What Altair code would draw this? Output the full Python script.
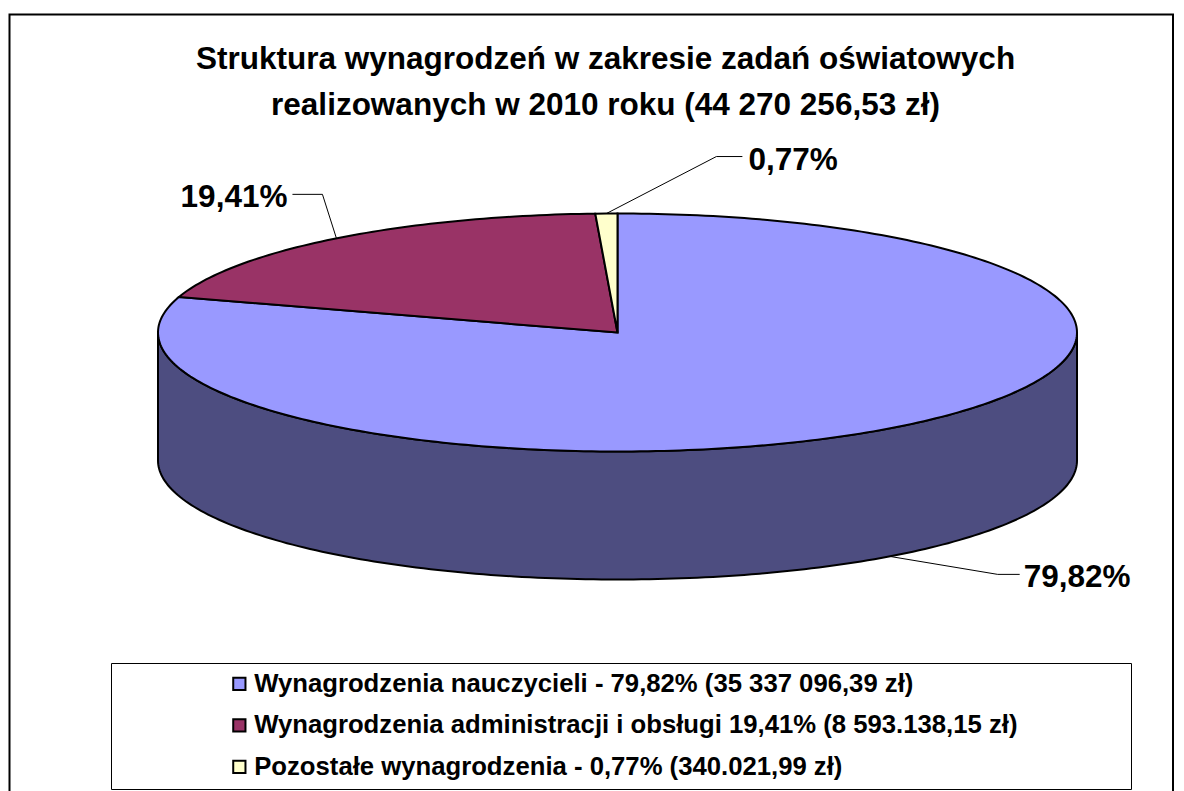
import math
import altair as alt

SERIES = [
    "Wynagrodzenia nauczycieli - 79,82% (35 337 096,39 zł)",
    "Wynagrodzenia administracji i obsługi 19,41% (8 593.138,15 zł)",
    "Pozostałe wynagrodzenia - 0,77% (340.021,99 zł)",
]
SHARES = [79.82, 19.41, 0.77]
SHARE_LABELS = ["79,82%", "19,41%", "0,77%"]
COLORS = ["#9999ff", "#993366", "#ffffcc"]
WALL_COLORS = ["#4d4d80", "#4d1a33", "#808066"]
TITLE = [
    "Struktura wynagrodzeń w zakresie zadań oświatowych",
    "realizowanych w 2010 roku (44 270 256,53 zł)",
]

FONT = "Liberation Sans"
W, H = 1168, 783
CX, CY, RX, RY, DEPTH = 609.5, 324.5, 459.5, 119, 128
# leader line: elbow offset from the slice anchor, run, then gap to the label
LEADER = [(108, 18, 22, 4), (-14, -44, -30, -5), (110, -57, 26, 6)]
LABEL_DY = 4


def pt(deg, dy=0):
    a = math.radians(deg)
    return [CX + RX * math.sin(a), CY - RY * math.cos(a) + dy]


def arc(a0, a1, dy=0, step=1.0):
    n = max(2, int(abs(a1 - a0) / step) + 1)
    return [pt(a0 + (a1 - a0) * i / (n - 1), dy) for i in range(n)]


def feature(kind, coords, **props):
    return {"type": "Feature", "properties": props,
            "geometry": {"type": kind, "coordinates": coords}}


tops, walls, leaders, labels = [], [], [], []
start = 0.0
for name, share, text, wall, lead in zip(SERIES, SHARES, SHARE_LABELS, WALL_COLORS, LEADER):
    end = start + share * 3.6
    ring = [[CX, CY]] + arc(start, end) + [[CX, CY]]
    tops.append(feature("Polygon", [ring], series=name))
    f0, f1 = max(start, 90.0), min(end, 270.0)
    if f1 > f0:
        shell = arc(f0, f1) + arc(f1, f0, DEPTH)
        walls.append(feature("Polygon", [shell + [shell[0]]], fill=wall))
    mid = (start + end) / 2
    front = 90 < mid < 270
    ax, ay = pt(mid, DEPTH if front else 0)
    ex, ey = ax + lead[0], ay + lead[1]
    tx = ex + lead[2]
    leaders.append(feature("LineString", [[ax, ay], [ex, ey], [tx, ey]], label=text))
    labels.append({"label": text, "x": tx + lead[3], "y": ey + LABEL_DY,
                   "side": "left" if lead[2] > 0 else "right"})
    start = end

proj = alt.Projection(type="identity", scale=1, translate=[0, 0])


def geo(features):
    return alt.Data(values=features)


frame = alt.Chart(alt.Data(values=[{"k": 1}])).mark_rect(
    fill="white", stroke="black", strokeWidth=2
).encode(x=alt.value(1.5), x2=alt.value(1165), y=alt.value(6.5), y2=alt.value(H + 20))

legend_box = alt.Chart(alt.Data(values=[{"k": 1}])).mark_rect(
    fill="white", stroke="black", strokeWidth=1
).encode(x=alt.value(103.5), x2=alt.value(1123.5), y=alt.value(655.5), y2=alt.value(781.5))

wall_layer = alt.Chart(geo(walls)).mark_geoshape(stroke="black", strokeWidth=2).encode(
    fill=alt.Fill("properties.fill:N", scale=None)
).project(**proj.to_dict())

top_layer = alt.Chart(geo(tops)).mark_geoshape(stroke="black", strokeWidth=2).encode(
    fill=alt.Fill(
        "properties.series:N",
        scale=alt.Scale(domain=SERIES, range=COLORS),
        sort=SERIES,
        legend=alt.Legend(
            title=None, orient="none", legendX=218.5, legendY=663,
            symbolType="square", symbolSize=150, symbolStrokeColor="black",
            symbolStrokeWidth=2, symbolOpacity=1,
            labelFont=FONT, labelFontSize=25.7, labelFontWeight="bold",
            labelColor="black", labelLimit=900, labelOffset=2, rowPadding=14.5,
        ),
    )
).project(**proj.to_dict())

leader_layer = alt.Chart(geo(leaders)).mark_geoshape(
    filled=False, stroke="black", strokeWidth=1
).project(**proj.to_dict())

left_text = alt.Chart(alt.Data(values=[d for d in labels if d["side"] == "left"])).mark_text(
    font=FONT, fontSize=31.5, fontWeight="bold", align="left", baseline="middle", color="black"
).encode(
    x=alt.X("x:Q", scale=None, axis=None),
    y=alt.Y("y:Q", scale=None, axis=None),
    text="label:N",
)
right_text = alt.Chart(alt.Data(values=[d for d in labels if d["side"] == "right"])).mark_text(
    font=FONT, fontSize=31.5, fontWeight="bold", align="right", baseline="middle", color="black"
).encode(
    x=alt.X("x:Q", scale=None, axis=None),
    y=alt.Y("y:Q", scale=None, axis=None),
    text="label:N",
)

chart = alt.layer(
    frame, legend_box, wall_layer, top_layer, leader_layer, left_text, right_text
).properties(
    width=W, height=H, padding=0, autosize=alt.AutoSizeParams(type="none"),
    title=alt.TitleParams(
        text=TITLE, font=FONT, fontSize=31.5, fontWeight="bold", color="black",
        anchor="middle", lineHeight=46, dy=138.5, dx=13.5, offset=0, baseline="alphabetic",
    ),
).configure_view(stroke=None)

chart.save("out.html", embed_options={"renderer": "svg", "actions": False})
